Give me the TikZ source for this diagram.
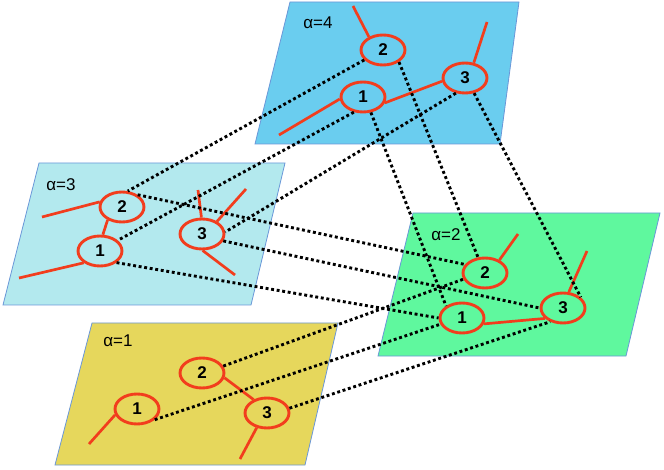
\documentclass[tikz,border=0pt]{standalone}
\usepackage{fontspec}
\setmainfont{Liberation Sans}
\usetikzlibrary{shapes.geometric}
\definecolor{planeblue}{RGB}{106,205,239}
\definecolor{planecyan}{RGB}{179,233,238}
\definecolor{planegreen}{RGB}{95,248,158}
\definecolor{planeyellow}{RGB}{230,215,92}
\definecolor{planeedge}{RGB}{106,151,216}
\definecolor{netred}{RGB}{242,61,29}

\begin{document}
\begin{tikzpicture}[x=1pt,y=-1pt,
	plane/.style={draw=planeedge,line width=0.8pt},
	vtx/.style={ellipse,draw=netred,line width=2.9pt,minimum width=44pt,minimum height=30pt,inner sep=0pt,font=\fontsize{17}{17}\selectfont\bfseries},
	arm/.style={draw=netred,line width=2.7pt},
	link/.style={line width=2.9pt,dash pattern=on 2.9pt off 2.7pt},
	tag/.style={font=\fontsize{17}{17}\selectfont}]
	\useasboundingbox (0,0) rectangle (664,470);

	% Ebenen
	\draw[plane,fill=planeblue] (290,2) -- (519,2) -- (500,144) -- (255,144) -- cycle;
	\draw[plane,fill=planecyan] (39,163) -- (285,163) -- (251,305) -- (3,305) -- cycle;
	\draw[plane,fill=planegreen] (413,213) -- (660,213) -- (626,356) -- (378,356) -- cycle;
	\draw[plane,fill=planeyellow] (92,323) -- (338,323) -- (305,465) -- (55,465) -- cycle;

	\node[tag] (t4) at (318,23) {α=4};
	\node[tag] (t3) at (61,185) {α=3};
	\node[tag] (t2) at (446,235) {α=2};
	\node[tag] (t1) at (118,341) {α=1};

	% alpha = 4
	\node[vtx] (a4n2) at (383,50) {2};
	\node[vtx] (a4n1) at (363,97) {1};
	\node[vtx] (a4n3) at (465,78) {3};
	\coordinate (e42) at (353,6);
	\coordinate (e43) at (487,22);
	\coordinate (e41) at (279,135);
	\draw[arm] (e42) -- (a4n2.137);
	\draw[arm] (e43) -- (a4n3.60);
	\draw[arm] (e41) -- (a4n1.185);
	\draw[arm] (a4n1.-15) -- (a4n3.188);

	% alpha = 3
	\node[vtx] (a3n2) at (122,207) {2};
	\node[vtx] (a3n1) at (100,251) {1};
	\node[vtx] (a3n3) at (202,234) {3};
	\coordinate (e32) at (42,217);
	\coordinate (e31) at (19,278);
	\coordinate (e33a) at (198,190);
	\coordinate (e33b) at (246,189);
	\coordinate (e33c) at (235,275);
	\draw[arm] (e32) -- (a3n2.167);
	\draw[arm] (e31) -- (a3n1.216);
	\draw[arm] (a3n1.80) -- (a3n2.222);
	\draw[arm] (e33a) -- (a3n3.92);
	\draw[arm] (e33b) -- (a3n3.40);
	\draw[arm] (e33c) -- (a3n3.272);

	% alpha = 2
	\node[vtx] (a2n2) at (485,273) {2};
	\node[vtx] (a2n1) at (462,318) {1};
	\node[vtx] (a2n3) at (563,308) {3};
	\coordinate (e22) at (518,234);
	\coordinate (e23) at (587,251);
	\draw[arm] (e22) -- (a2n2.42);
	\draw[arm] (e23) -- (a2n3.70);
	\draw[arm] (a2n1.-15) -- (a2n3.210);

	% alpha = 1
	\node[vtx] (a1n2) at (202,373) {2};
	\node[vtx] (a1n1) at (137,409) {1};
	\node[vtx] (a1n3) at (267,413) {3};
	\coordinate (e11) at (89,444);
	\coordinate (e13) at (240,459);
	\draw[arm] (e11) -- (a1n1.195);
	\draw[arm] (e13) -- (a1n3.235);
	\draw[arm] (a1n2.-12) -- (a1n3.135);

	% Verbindungen zwischen den Ebenen
	\draw[link] (a4n2.208) -- (a3n2.70);
	\draw[link] (a4n2.-37) -- (a2n2.114);
	\draw[link] (a4n1.239) -- (a3n1.31);
	\draw[link] (a4n1.-63) -- (a2n1.143);
	\draw[link] (a4n3.239) -- (a3n3.5);
	\draw[link] (a4n3.-59) -- (a2n3.31);
	\draw[link] (a3n2.38) -- (a2n2.157);
	\draw[link] (a3n3.-18) -- (a2n3.180);
	\draw[link] (a3n1.-35) -- (a2n1.180);
	\draw[link] (a1n2.18) -- (a2n2.196);
	\draw[link] (a1n1.-31) -- (a2n1.196);
	\draw[link] (a1n3.12) -- (a2n3.227);
\end{tikzpicture}
\end{document}
